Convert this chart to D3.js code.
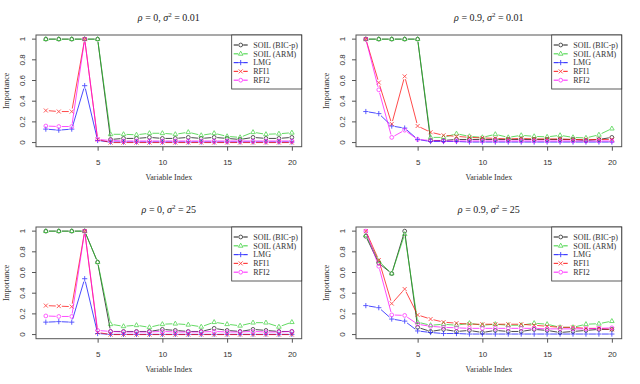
<!DOCTYPE html>
<html>
<head>
<meta charset="utf-8">
<script src="https://cdn.jsdelivr.net/npm/d3@7"></script>
<style>
  body { margin: 0; background: #fff; }
  svg { display: block; font-family: "Liberation Serif", "DejaVu Serif", serif; }
</style>
</head>
<body>
<div id="container"></div>
<script>
//******************** DATA ********************//
const varIndex = [1,2,3,4,5,6,7,8,9,10,11,12,13,14,15,16,17,18,19,20];
const xTicks = [5, 10, 15, 20];
const yTicks = [0, 0.2, 0.4, 0.6, 0.8, 1];
const seriesNames = ["SOIL (BIC-p)", "SOIL (ARM)", "LMG", "RFI1", "RFI2"];
// titles: [rho, sigma^2]
const panelRho = ["0", "0.9", "0", "0.9"];
const panelSigma = ["0.01", "0.01", "25", "25"];

// one row per panel: (rho 0, s2 .01), (rho .9, s2 .01), (rho 0, s2 25), (rho .9, s2 25)
const soilBic = [
  [1,1,1,1,1,0.03,0.04,0.04,0.05,0.04,0.04,0.05,0.04,0.05,0.04,0.03,0.05,0.04,0.04,0.05],
  [1,1,1,1,1,0.02,0.02,0.03,0.03,0.03,0.03,0.03,0.03,0.03,0.03,0.03,0.03,0.02,0.03,0.05],
  [1,1,1,1,0.70,0.03,0.03,0.03,0.03,0.05,0.04,0.03,0.03,0.06,0.04,0.03,0.05,0.04,0.03,0.03],
  [0.95,0.69,0.59,1,0.07,0.03,0.05,0.03,0.04,0.02,0.04,0.03,0.03,0.05,0.04,0.02,0.03,0.04,0.05,0.05]
];
const soilArm = [
  [1,1,1,1,1,0.08,0.08,0.075,0.09,0.09,0.08,0.10,0.07,0.09,0.06,0.05,0.10,0.08,0.085,0.095],
  [1,1,1,1,1,0.05,0.05,0.085,0.06,0.05,0.08,0.05,0.07,0.06,0.055,0.07,0.05,0.045,0.075,0.135],
  [1,1,1,1,0.70,0.10,0.08,0.09,0.07,0.10,0.105,0.095,0.075,0.12,0.10,0.085,0.115,0.115,0.075,0.12],
  [0.96,0.71,0.59,0.97,0.12,0.09,0.10,0.09,0.11,0.09,0.10,0.09,0.09,0.11,0.10,0.07,0.07,0.10,0.105,0.13]
];
const lmg = [
  [0.13,0.12,0.13,0.55,0.02,0.005,0.005,0.005,0.005,0.005,0.005,0.005,0.005,0.005,0.005,0.005,0.005,0.005,0.005,0.005],
  [0.30,0.28,0.16,0.14,0.03,0.01,0.01,0.01,0.005,0.005,0.005,0.005,0.005,0.005,0.005,0.005,0.005,0.005,0.005,0.005],
  [0.12,0.125,0.12,0.54,0.01,0.002,0.002,0.002,0.002,0.002,0.002,0.002,0.002,0.002,0.002,0.002,0.002,0.002,0.002,0.002],
  [0.28,0.26,0.15,0.13,0.035,0.02,0.01,0.01,0.005,0.005,0.005,0.005,0.005,0.005,0.005,0.005,0.005,0.005,0.005,0.005]
];
const rfi1 = [
  [0.31,0.30,0.30,1,0.03,0.0,0.0,0.0,0.0,0.0,0.0,0.0,0.0,0.0,0.0,0.0,0.0,0.0,0.0,0.0],
  [1,0.58,0.18,0.64,0.16,0.10,0.07,0.06,0.05,0.045,0.04,0.035,0.04,0.035,0.035,0.035,0.03,0.03,0.03,0.03],
  [0.28,0.275,0.27,1,0.02,0.0,0.0,0.0,0.0,0.0,0.0,0.0,0.0,0.0,0.0,0.0,0.0,0.0,0.0,0.0],
  [1,0.72,0.30,0.44,0.19,0.15,0.12,0.11,0.10,0.10,0.10,0.10,0.10,0.09,0.08,0.07,0.07,0.06,0.06,0.05]
];
const rfi2 = [
  [0.16,0.155,0.155,1,0.03,0.02,0.015,0.015,0.015,0.015,0.015,0.015,0.015,0.015,0.015,0.015,0.015,0.015,0.015,0.015],
  [1,0.51,0.05,0.12,0.03,0.02,0.015,0.015,0.015,0.015,0.015,0.015,0.015,0.015,0.015,0.015,0.015,0.015,0.015,0.015],
  [0.18,0.175,0.175,1,0.04,0.03,0.025,0.025,0.025,0.03,0.025,0.025,0.025,0.03,0.025,0.025,0.03,0.025,0.025,0.03],
  [1,0.66,0.19,0.185,0.10,0.08,0.07,0.065,0.06,0.06,0.06,0.06,0.06,0.06,0.055,0.055,0.055,0.055,0.06,0.065]
];

//******************** PREPARING ********************//
const width = 640;
const height = 384;
const panelW = 320, panelH = 192;
// plot box inside each panel
const box = {left: 36, right: 301.7, top: 35, bottom: 146.7};
const gap = 3; // R type="b" leaves a gap round each point

const colors = ["#000000", "#22cc22", "#0000ff", "#ff0000", "#ff00ff"];
const shapes = ["circle", "triangle", "plus", "cross", "circle"];
const allValues = [soilBic, soilArm, lmg, rfi1, rfi2];

const svg = d3.select("div#container")
    .append("svg")
    .attr("width", width)
    .attr("height", height);

const xScale = d3.scaleLinear().domain([0.24, 20.76]).range([box.left, box.right]);
const yScale = d3.scaleLinear().domain([-0.04, 1.04]).range([box.bottom, box.top]);

function drawSymbol(g, shape, x, y, color) {
    const s = g.append("g").attr("transform", `translate(${x},${y})`)
        .attr("fill", "none").attr("stroke", color).attr("stroke-width", 0.9);
    if (shape === "circle") {
        s.append("circle").attr("r", 1.9);
    } else if (shape === "triangle") {
        s.append("path").attr("d", "M0,-2.6L2.3,1.4L-2.3,1.4Z");
    } else if (shape === "plus") {
        s.append("path").attr("d", "M-2.6,0H2.6M0,-2.6V2.6");
    } else {
        s.append("path").attr("d", "M-2,-2L2,2M-2,2L2,-2");
    }
}

//******************** DRAWING ********************//
for (let p = 0; p < 4; p++) {
    const g = svg.append("g")
        .attr("transform", `translate(${(p % 2) * panelW},${Math.floor(p / 2) * panelH})`);

    // title
    const t = g.append("text")
        .attr("x", (box.left + box.right) / 2)
        .attr("y", 21)
        .attr("text-anchor", "middle")
        .attr("fill", "#222")
        .style("font-size", "10px");
    t.append("tspan").attr("font-style", "italic").text("ρ");
    t.append("tspan").text(" = " + panelRho[p] + ", ");
    t.append("tspan").attr("font-style", "italic").text("σ");
    t.append("tspan").attr("dy", -4).style("font-size", "7px").text("2");
    t.append("tspan").attr("dy", 4).text(" = " + panelSigma[p]);

    // axes
    const xAxis = d3.axisBottom(xScale).tickValues(xTicks).tickSize(4).tickPadding(8.5);
    const yAxis = d3.axisLeft(yScale).tickValues(yTicks).tickSize(4)
        .tickFormat(d => d3.format("~g")(d));

    const gx = g.append("g")
        .attr("transform", `translate(0,${box.bottom})`)
        .call(xAxis);
    gx.select(".domain").remove();
    gx.selectAll("line").attr("stroke", "#555");
    gx.selectAll("text").style("font-size", "8px").style("font-family", "inherit").attr("fill", "#333");

    const gy = g.append("g")
        .attr("transform", `translate(${box.left},0)`)
        .call(yAxis);
    gy.select(".domain").remove();
    gy.selectAll("line").attr("stroke", "#555");
    gy.selectAll("text")
        .style("font-size", "8px").style("font-family", "inherit").attr("fill", "#333")
        .attr("x", null).attr("dy", null)
        .attr("text-anchor", "middle")
        .attr("transform", d => `translate(-11,${yScale(d)}) rotate(-90)`)
        .attr("y", 0);
    gy.selectAll(".tick").attr("transform", null);
    gy.selectAll(".tick line").attr("transform", d => `translate(0,${yScale(d)})`);

    // box
    g.append("rect")
        .attr("x", box.left).attr("y", box.top)
        .attr("width", box.right - box.left).attr("height", box.bottom - box.top)
        .attr("fill", "none").attr("stroke", "#555").attr("stroke-width", 1);

    // axis labels
    g.append("text")
        .attr("x", (box.left + box.right) / 2).attr("y", 180)
        .attr("text-anchor", "middle").style("font-size", "8px").attr("fill", "#333")
        .text("Variable Index");
    g.append("text")
        .attr("transform", `translate(9,${(box.top + box.bottom) / 2}) rotate(-90)`)
        .attr("text-anchor", "middle").style("font-size", "8px").attr("fill", "#333")
        .text("Importance");

    // series
    allValues.forEach((vals, s) => {
        const pts = varIndex.map((x, i) => [xScale(x), yScale(vals[p][i])]);
        const sg = g.append("g").attr("opacity", 0.7);
        for (let i = 0; i < pts.length - 1; i++) {
            const [x0, y0] = pts[i], [x1, y1] = pts[i + 1];
            const len = Math.hypot(x1 - x0, y1 - y0);
            if (len <= 2 * gap) continue;
            const ux = (x1 - x0) / len, uy = (y1 - y0) / len;
            sg.append("line")
                .attr("x1", x0 + ux * gap).attr("y1", y0 + uy * gap)
                .attr("x2", x1 - ux * gap).attr("y2", y1 - uy * gap)
                .attr("stroke", colors[s]).attr("stroke-width", 1);
        }
        pts.forEach(([x, y]) => drawSymbol(sg, shapes[s], x, y, colors[s]));
    });

    // legend
    const lw = 70, lh = 54;
    const lg = g.append("g").attr("transform", `translate(${box.right - lw},${box.top})`);
    lg.append("rect").attr("width", lw).attr("height", lh)
        .attr("fill", "#fff").attr("stroke", "#333").attr("stroke-width", 0.8);
    seriesNames.forEach((name, s) => {
        const yy = 10 + s * 8.8;
        const eg = lg.append("g").attr("opacity", 0.75);
        eg.append("line").attr("x1", 2).attr("x2", 6.5).attr("y1", yy).attr("y2", yy)
            .attr("stroke", colors[s]).attr("stroke-width", 1.2);
        eg.append("line").attr("x1", 11.5).attr("x2", 16).attr("y1", yy).attr("y2", yy)
            .attr("stroke", colors[s]).attr("stroke-width", 1.2);
        drawSymbol(eg, shapes[s], 9, yy, colors[s]);
        lg.append("text").attr("x", 21.5).attr("y", yy + 2.7)
            .style("font-size", "8px").attr("fill", "#333").text(name);
    });
}
</script>
</body>
</html>
